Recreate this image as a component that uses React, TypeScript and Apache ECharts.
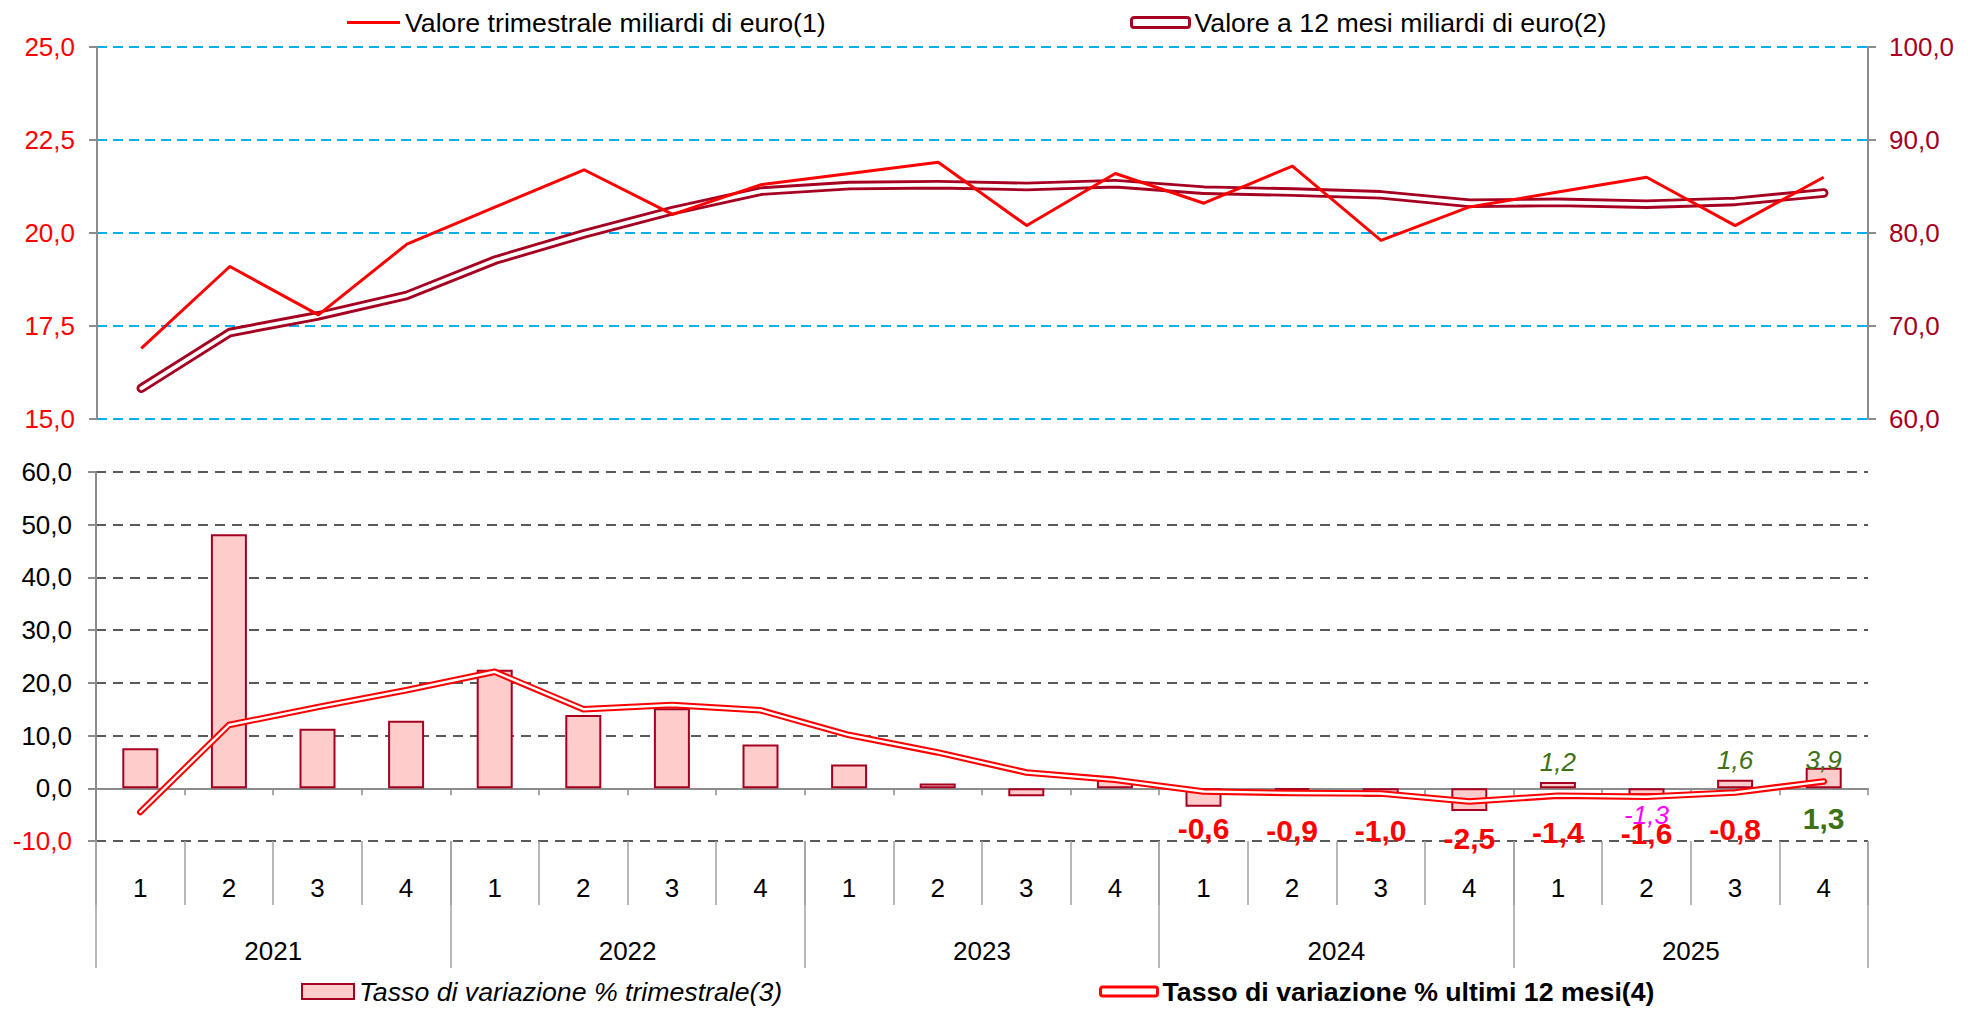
import React, { useEffect, useRef } from 'react';
import * as echarts from 'echarts';

const years = ['2021', '2022', '2023', '2024', '2025'];
const quarters = ['1', '2', '3', '4'];
const categories = years.flatMap((y) => quarters.map((q) => `${y} ${q}`));

// Valore trimestrale miliardi di euro (left axis, top)
const quarterlyValue = [16.9, 19.1, 17.8, 19.7, 20.7, 21.7, 20.5, 21.3, 21.6, 21.9, 20.2, 21.6, 20.8, 21.8, 19.8, 20.7, 21.1, 21.5, 20.2, 21.5];
// Valore a 12 mesi miliardi di euro (right axis, top)
const value12m = [63.3, 69.3, 71.1, 73.3, 77.1, 79.9, 82.4, 84.5, 85.1, 85.2, 85.0, 85.3, 84.6, 84.4, 84.1, 83.2, 83.3, 83.1, 83.4, 84.3];
// Tasso di variazione % trimestrale (bars, bottom)
const quarterlyRate = [7.6, 48.2, 11.3, 12.8, 22.5, 13.9, 15.2, 8.3, 4.5, 0.9, -1.5, 1.6, -3.5, -0.3, -1.6, -4.3, 1.2, -1.3, 1.6, 3.9];
// Tasso di variazione % ultimi 12 mesi (double line, bottom)
const rate12m = [-4.5, 12.0, 15.4, 18.6, 22.1, 15.0, 15.8, 14.8, 10.1, 6.8, 3.0, 1.6, -0.6, -0.9, -1.0, -2.5, -1.4, -1.6, -0.8, 1.3];

const S1 = 'Valore trimestrale miliardi di euro(1)';
const S2 = 'Valore a 12 mesi miliardi di euro(2)';
const S3 = 'Tasso di variazione % trimestrale(3)';
const S4 = 'Tasso di variazione % ultimi 12 mesi(4)';

const FONT = "'Liberation Sans', Arial, sans-serif";
const RED = '#ff0000';
const DARKRED = '#a50021';
const GREEN = '#3d7113';
const MAGENTA = '#ff00ff';
const GRAY = '#8c8c8c';

const fmt = (v: number) => Number(v).toFixed(1).replace('.', ',');

export default function App() {
  const ref = useRef<HTMLDivElement>(null);

  useEffect(() => {
    if (!ref.current) return;
    const chart = echarts.init(ref.current, null, { renderer: 'svg' });

    const baseLabel = { fontFamily: FONT, fontSize: 26, color: '#000' };
    const legendText = { fontFamily: FONT, fontSize: 26.7, color: '#000' };

    const option: any = {
      animation: false,
      backgroundColor: '#fff',
      textStyle: { fontFamily: FONT },
      grid: [
        { left: 97, right: 114, top: 47, height: 372 },
        { left: 96, right: 114, top: 472, height: 369 },
      ],
      legend: [
        {
          data: [{ name: S1, icon: 'rect', itemStyle: { color: RED, borderWidth: 0 } }],
          left: 342, top: 4, itemWidth: 53, itemHeight: 3, selectedMode: false,
          textStyle: { ...legendText },
        },
        {
          data: [{ name: S2, icon: 'roundRect', itemStyle: { color: '#ffffff', borderColor: DARKRED, borderWidth: 3 } }],
          left: 1125, top: 4, itemWidth: 58, itemHeight: 10, selectedMode: false,
          textStyle: { ...legendText },
        },
        {
          data: [{ name: S3, icon: 'rect', itemStyle: { color: '#ffcccc', borderColor: DARKRED, borderWidth: 2 } }],
          left: 296, top: 973, itemWidth: 52, itemHeight: 15, selectedMode: false,
          textStyle: { ...legendText, fontStyle: 'italic' },
        },
        {
          data: [{ name: S4, icon: 'roundRect', itemStyle: { color: '#ffffff', borderColor: RED, borderWidth: 3 } }],
          left: 1094, top: 973, itemWidth: 57, itemHeight: 9, selectedMode: false,
          textStyle: { ...legendText, fontWeight: 'bold' },
        },
      ],
      xAxis: [
        { type: 'category', gridIndex: 0, data: categories, show: false, boundaryGap: true },
        {
          type: 'category', gridIndex: 1, data: categories, position: 'bottom', boundaryGap: true,
          axisLine: { show: true, onZero: true, lineStyle: { color: GRAY, width: 2 } },
          axisTick: { show: true, length: 7, interval: 0, lineStyle: { color: GRAY, width: 1.5 } },
          axisLabel: { show: false },
          splitLine: { show: false },
        },
        {
          type: 'category', gridIndex: 1, data: categories, position: 'bottom', boundaryGap: true,
          axisLine: { show: false, onZero: false },
          axisTick: { show: true, length: 64, interval: 0, lineStyle: { color: '#a0a0a0', width: 1.5 } },
          axisLabel: {
            show: true, interval: 0, margin: 34, ...baseLabel,
            formatter: (v: string) => v.split(' ')[1],
          },
          splitLine: { show: false },
        },
        {
          type: 'category', gridIndex: 1, data: years, position: 'bottom', boundaryGap: true,
          axisLine: { show: false, onZero: false },
          axisTick: { show: true, length: 127, interval: 0, lineStyle: { color: '#a0a0a0', width: 1.5 } },
          axisLabel: { show: true, interval: 0, margin: 97, ...baseLabel },
          splitLine: { show: false },
        },
      ],
      yAxis: [
        {
          type: 'value', gridIndex: 0, position: 'left', min: 15, max: 25, interval: 2.5,
          axisLine: { show: true, lineStyle: { color: GRAY, width: 2 } },
          axisTick: { show: true, length: 8, lineStyle: { color: GRAY, width: 2 } },
          axisLabel: { ...baseLabel, color: RED, margin: 22, formatter: fmt },
          splitLine: { show: true, lineStyle: { color: '#00b0f0', width: 2, type: [10, 6] } },
        },
        {
          type: 'value', gridIndex: 0, position: 'right', min: 60, max: 100, interval: 10,
          axisLine: { show: true, lineStyle: { color: GRAY, width: 2 } },
          axisTick: { show: true, length: 8, lineStyle: { color: GRAY, width: 2 } },
          axisLabel: { ...baseLabel, color: DARKRED, margin: 21, formatter: fmt },
          splitLine: { show: false },
        },
        {
          type: 'value', gridIndex: 1, position: 'left', min: -10, max: 60, interval: 10,
          axisLine: { show: true, lineStyle: { color: GRAY, width: 2 } },
          axisTick: { show: true, length: 8, lineStyle: { color: GRAY, width: 2 } },
          axisLabel: {
            ...baseLabel, margin: 24, formatter: fmt,
            color: (v: any) => (Number(v) < 0 ? RED : '#000'),
          },
          splitLine: { show: true, lineStyle: { color: '#595959', width: 2, type: [10, 7] } },
        },
      ],
      series: [
        {
          name: S2, type: 'line', xAxisIndex: 0, yAxisIndex: 1, data: value12m,
          symbol: 'none', silent: true,
          lineStyle: { color: DARKRED, width: 9.5, cap: 'round', join: 'round' },
          itemStyle: { color: DARKRED },
          z: 2,
        },
        {
          name: 'inner12m', type: 'line', xAxisIndex: 0, yAxisIndex: 1, data: value12m,
          symbol: 'none', silent: true,
          lineStyle: { color: '#ffffff', width: 3.8, cap: 'round', join: 'round' },
          itemStyle: { color: '#ffffff' },
          z: 2,
        },
        {
          name: S1, type: 'line', xAxisIndex: 0, yAxisIndex: 0, data: quarterlyValue,
          symbol: 'none', silent: true,
          lineStyle: { color: RED, width: 3, join: 'round' },
          itemStyle: { color: RED },
          z: 3,
        },
        {
          name: S3, type: 'bar', xAxisIndex: 1, yAxisIndex: 2, barWidth: 36, silent: true,
          itemStyle: { color: '#ffcccc', borderColor: DARKRED, borderWidth: 2 },
          data: quarterlyRate.map((v, i) => {
            if (i < 16) return v;
            const pos = v >= 0;
            return {
              value: v,
              label: {
                show: true,
                position: pos ? 'top' : 'bottom',
                distance: 7,
                offset: i === 19 ? [0, 12] : [0, 0],
                fontFamily: FONT, fontSize: 26, fontStyle: 'italic',
                color: pos ? GREEN : MAGENTA,
                formatter: (p: any) => fmt(p.value),
              },
            };
          }),
          z: 2,
        },
        {
          name: S4, type: 'line', xAxisIndex: 1, yAxisIndex: 2, silent: true,
          symbol: 'circle', symbolSize: 0, showSymbol: true, showAllSymbol: true,
          lineStyle: { color: RED, width: 6.5, cap: 'round', join: 'round' },
          itemStyle: { color: 'rgba(0,0,0,0)' },
          data: rate12m.map((v, i) => {
            if (i < 12) return v;
            return {
              value: v,
              label: {
                show: true, position: 'bottom', distance: 22,
                fontFamily: FONT, fontSize: 30, fontWeight: 'bold',
                color: v >= 0 ? GREEN : RED,
                formatter: (p: any) => fmt(p.value),
              },
            };
          }),
          z: 3,
        },
        {
          name: 'inner12mRate', type: 'line', xAxisIndex: 1, yAxisIndex: 2, data: rate12m,
          symbol: 'none', silent: true,
          lineStyle: { color: '#ffffff', width: 2.4, cap: 'round', join: 'round' },
          itemStyle: { color: '#ffffff' },
          z: 3,
        },
      ],
    };

    chart.setOption(option);
    return () => chart.dispose();
  }, []);

  return (
    <div
      ref={ref}
      style={{ position: 'fixed', left: 0, top: 0, width: 1982, height: 1009, background: '#fff' }}
    />
  );
}
